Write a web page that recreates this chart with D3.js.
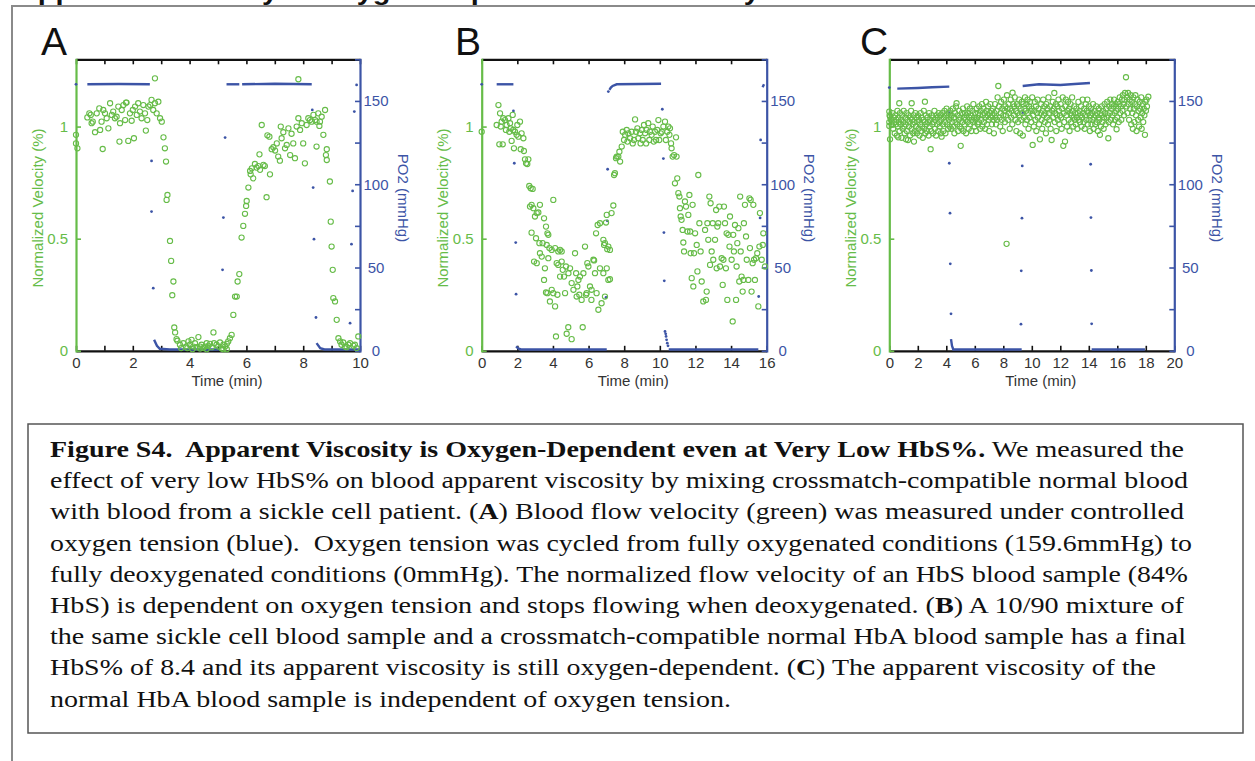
<!DOCTYPE html>
<html>
<head>
<meta charset="utf-8">
<script src="https://cdn.jsdelivr.net/npm/d3@7"></script>
<style>
  body { margin: 0; background: #fff; }
  svg { display: block; }
  .axis text { font-family: 'Liberation Sans', Arial, sans-serif; font-size: 15px; }
  .caption { white-space: pre; }
</style>
</head>
<body>
<div id="chart"></div>
<script>
// ---- data ----
const velTicks = [0, 0.5, 1]
const po2Ticks = [0, 25, 50, 75, 100, 125, 150, 175]
const po2Labels = [0, 50, 100, 150]

const timeTicksA = [0, 1, 2, 3, 4, 5, 6, 7, 8, 9, 10]
const timeLabelsA = [0, 2, 4, 6, 8, 10]
const timeTicksB = [0, 2, 4, 6, 8, 10, 12, 14, 16]
const timeTicksC = [0, 2, 4, 6, 8, 10, 12, 14, 16, 18, 20]

// panel A: [time (min), normalized velocity]
const aVelocity = [
  [0.00,0.963],[0.00,0.925],[0.05,0.903],[0.40,1.041],[0.47,1.059],[0.52,1.052],[0.55,1.015],[0.59,1.022],
  [0.67,0.975],[0.73,1.059],[0.82,1.081],[0.85,0.985],[0.90,1.022],[0.94,0.900],[0.96,1.074],[1.02,1.059],
  [1.08,1.037],[1.14,0.992],[1.20,1.104],[1.26,1.052],[1.31,1.067],[1.37,1.037],[1.43,1.044],[1.49,1.089],
  [1.53,0.933],[1.55,1.015],[1.61,1.074],[1.67,1.096],[1.73,1.029],[1.76,1.107],[1.78,1.107],[1.84,0.936],
  [1.90,1.059],[1.96,1.026],[2.00,1.074],[2.04,0.948],[2.08,1.089],[2.14,1.052],[2.19,1.104],[2.25,1.067],
  [2.31,1.037],[2.37,1.096],[2.43,1.059],[2.46,0.982],[2.51,1.029],[2.55,1.089],[2.61,1.096],[2.66,1.119],
  [2.72,1.074],[2.78,1.104],[2.78,1.215],[2.84,1.059],[2.90,1.111],[2.96,1.037],[3.02,1.022],[3.08,0.952],
  [3.13,0.903],[3.17,0.844],[3.19,0.673],[3.22,0.695],[3.31,0.490],[3.35,0.401],[3.39,0.248],[3.43,0.309],
  [3.46,0.104],[3.49,0.082],[3.54,0.052],[3.57,0.045],
  [3.66,0.027],[3.70,0.012],[3.78,0.034],[3.87,0.019],[3.92,0.012],[3.96,0.042],[4.01,0.027],[4.07,0.049],
  [4.10,0.007],[4.13,0.019],[4.19,0.034],[4.25,0.016],[4.31,0.061],[4.37,0.019],[4.37,0.010],[4.42,0.027],
  [4.48,0.012],[4.54,0.019],[4.60,0.034],[4.60,0.007],[4.66,0.022],[4.72,0.031],[4.78,0.016],[4.84,0.082],
  [4.86,0.034],[4.95,0.027],[5.01,0.019],[5.07,0.037],[5.13,0.010],[5.19,0.027],[5.19,0.007],[5.25,0.019],
  [5.31,0.031],[5.31,0.007],[5.36,0.042],[5.42,0.056],[5.48,0.071],
  [5.54,0.160],[5.60,0.242],[5.66,0.242],[5.69,0.309],[5.75,0.342],[5.83,0.505],[5.89,0.557],[5.95,0.611],
  [5.99,0.646],[6.01,0.668],[6.07,0.728],[6.13,0.802],[6.15,0.787],[6.19,0.814],[6.24,0.769],[6.30,0.833],
  [6.36,0.817],[6.42,0.824],[6.46,0.876],[6.48,0.807],[6.54,1.007],[6.60,0.829],[6.65,0.824],[6.71,0.685],
  [6.74,0.961],[6.81,0.955],[6.83,0.787],[6.89,0.899],[6.95,0.908],[7.01,0.893],[7.07,0.925],[7.12,0.866],
  [7.18,0.848],[7.21,1.000],[7.24,0.948],[7.30,0.975],[7.36,0.903],[7.42,0.918],[7.48,0.992],[7.54,0.873],
  [7.59,0.968],[7.65,0.925],[7.71,0.859],[7.77,1.000],[7.83,1.037],[7.83,1.211],[7.89,0.985],[7.95,1.015],
  [8.00,0.925],[8.06,0.836],[8.12,1.007],[8.18,1.037],[8.24,1.029],[8.30,1.022],[8.36,1.052],[8.42,1.029],
  [8.47,1.022],[8.47,0.911],[8.53,1.059],[8.57,1.003],[8.59,1.022],[8.65,1.044],[8.71,0.963],[8.77,1.074],
  [8.80,0.873],[8.83,0.899],[8.83,0.851],[8.94,0.755],[8.97,0.576],[9.00,0.465],[9.04,0.361],[9.06,0.235],
  [9.12,0.220],[9.18,0.138],[9.24,0.056],[9.30,0.042],[9.35,0.027],[9.41,0.037],[9.47,0.019],[9.53,0.016],
  [9.59,0.027],[9.65,0.034],[9.77,0.022],[9.82,0.027],[9.88,0.012],[9.94,0.064]
]
// [time, PO2 mmHg]: traced runs and lone samples
const aPO2Lines = [
  [[0.4,160],[1.5,160.2],[2.6,160]],
  [[2.75,6.6],[2.85,3],[2.95,1.2],[3.3,0.8],[5.07,0.8]],
  [[5.3,160],[5.75,160]],
  [[5.85,160],[7,160.3],[8.3,160]],
  [[8.47,4.6],[8.6,1.6],[8.75,0.8],[10,0.8]]
]
const aPO2Dots = [
  [0,160],[2.66,114],[2.66,83.6],[2.72,37.6],[5.16,48.6],[5.19,80],[5.25,128],
  [8.32,144.6],[8.35,98],[8.38,67],[8.45,20],[9.65,16.6],[9.7,64],[9.74,96],[9.8,143.6],[9.88,159.6]
]

// panel B
const bVelocity = [
  [0.00,0.977],[0.94,1.096],[0.84,1.007],[1.03,1.059],[1.12,1.022],[1.07,1.000],[0.99,0.921],[1.18,0.921],
  [1.21,1.037],[1.31,1.029],[1.36,0.985],[1.40,1.007],[1.50,1.037],[1.55,0.977],[1.59,1.015],[1.63,0.992],
  [1.68,0.936],[1.74,1.052],[1.77,0.985],[1.81,0.903],[1.87,0.977],[1.96,0.963],[2.00,1.007],[2.06,0.955],
  [2.15,1.022],[2.19,0.899],[2.24,0.970],[2.34,0.948],[2.37,0.891],[2.43,0.854],[2.49,0.836],[2.56,0.833],
  [2.62,0.854],
  [2.67,0.735],[2.75,0.725],[2.86,0.722],[2.71,0.643],[2.80,0.651],[2.90,0.636],[3.09,0.614],[3.18,0.617],
  [3.27,0.651],[2.99,0.599],[2.80,0.527],[3.05,0.502],[3.24,0.480],[3.27,0.435],[2.94,0.398],[3.09,0.391],
  [3.37,0.420],[3.42,0.480],[3.50,0.591],[3.61,0.554],[3.69,0.524],[3.74,0.517],[3.65,0.472],[3.55,0.368],
  [3.74,0.413],[3.80,0.458],[3.93,0.450],[4.02,0.673],[4.12,0.458],[4.21,0.391],[4.30,0.443],[4.40,0.450],
  [4.49,0.443],[3.50,0.316],[3.61,0.260],[3.69,0.257],[3.83,0.220],[3.93,0.272],[4.02,0.257],[4.12,0.198],
  [4.25,0.250],[4.30,0.383],[4.40,0.331],[4.49,0.398],[4.55,0.361],[4.62,0.331],[4.68,0.257],[4.73,0.376],
  [4.87,0.346],[4.96,0.368],[5.05,0.302],[5.15,0.272],[5.24,0.435],[5.30,0.346],[5.33,0.242],[5.37,0.287],
  [5.43,0.316],[5.48,0.250],[5.52,0.331],[5.61,0.227],[5.71,0.346],[5.80,0.465],[5.86,0.250],[5.89,0.257],
  [5.93,0.391],[5.99,0.376],[6.08,0.287],[6.16,0.227],[6.17,0.272],[6.27,0.406],[6.31,0.403],[6.36,0.346],
  [6.45,0.257],[6.55,0.183],[6.64,0.368],[6.73,0.212],[6.83,0.346],[6.92,0.242],[7.02,0.368],[7.11,0.316],
  [7.20,0.319],[4.17,0.064],[4.77,0.076],[4.86,0.105],[5.05,0.052],[5.67,0.105],
  [6.42,0.524],[6.51,0.561],[6.64,0.569],[6.83,0.495],[6.87,0.472],[6.92,0.480],[6.98,0.572],[7.02,0.606],
  [7.05,0.453],[7.11,0.465],[7.20,0.450],[7.29,0.614],[7.39,0.648],
  [7.43,0.784],[7.48,0.792],[7.54,0.859],[7.58,0.866],[7.67,0.866],[7.73,0.888],[7.77,0.844],[7.86,0.911],
  [7.92,0.977],[7.99,0.940],[8.05,0.963],[8.14,0.985],[8.18,0.933],[8.23,0.970],[8.33,0.948],[8.42,0.977],
  [8.48,0.925],[8.55,0.940],[8.61,1.032],[8.66,0.977],[8.74,0.992],[8.79,0.948],[8.89,0.970],[8.92,0.925],
  [8.98,0.985],[9.04,0.940],[9.11,1.007],[9.17,0.970],[9.23,0.925],[9.26,0.985],[9.35,1.015],[9.41,0.940],
  [9.45,0.977],[9.54,0.963],[9.60,1.000],[9.66,0.933],[9.73,0.977],[9.79,0.940],[9.86,0.985],[9.92,1.029],
  [9.97,0.940],[10.05,0.970],[10.11,0.977],[10.20,1.000],[10.29,1.022],[10.34,0.940],[10.42,0.977],
  [10.48,1.000],[10.54,0.963],[10.57,0.992],[10.63,0.925],[10.66,0.903],[10.72,0.866],[10.80,0.873],
  [10.91,0.952],[10.94,0.866],
  [10.85,0.747],[10.98,0.769],[11.04,0.703],[11.10,0.688],[11.13,0.636],[11.17,0.599],[11.22,0.584],
  [11.28,0.539],[11.32,0.483],[11.36,0.443],[11.41,0.666],[11.47,0.643],[11.55,0.532],[11.60,0.606],
  [11.66,0.695],[11.70,0.532],[11.73,0.435],[11.79,0.324],[11.84,0.651],[11.88,0.287],[11.92,0.435],
  [11.98,0.524],[12.07,0.472],[12.11,0.354],[12.16,0.784],[12.22,0.569],[12.29,0.443],[12.35,0.309],
  [12.44,0.220],[12.54,0.539],[12.59,0.227],[12.63,0.264],[12.67,0.569],[12.72,0.495],[12.78,0.688],
  [12.82,0.383],[12.85,0.658],[12.91,0.443],[12.97,0.569],[13.00,0.406],[13.10,0.495],[13.16,0.628],
  [13.19,0.368],[13.23,0.554],[13.28,0.569],[13.34,0.643],[13.38,0.376],[13.47,0.413],[13.53,0.294],
  [13.57,0.406],[13.60,0.643],[13.66,0.569],[13.71,0.368],[13.75,0.524],[13.79,0.227],[13.85,0.517],
  [13.91,0.465],[13.94,0.599],[14.03,0.406],[14.09,0.131],[14.12,0.517],[14.16,0.443],[14.22,0.561],
  [14.28,0.227],[14.31,0.376],[14.35,0.480],[14.41,0.547],[14.46,0.309],[14.51,0.688],[14.54,0.443],
  [14.59,0.331],[14.65,0.264],[14.69,0.316],[14.72,0.569],[14.78,0.651],[14.84,0.510],[14.88,0.406],
  [14.97,0.316],[15.03,0.680],[15.06,0.458],[15.10,0.673],[15.15,0.264],[15.21,0.391],[15.25,0.651],
  [15.29,0.406],[15.34,0.316],[15.40,0.413],[15.47,0.435],[15.53,0.198],[15.59,0.465],[15.62,0.614],
  [15.72,0.406],[15.78,0.472],[15.81,0.524],[15.90,0.376]
]
const bPO2Lines = [
  [[0.84,160],[1.78,160]],
  [[1.93,2.6],[2.05,1.4],[2.2,0.8],[7.02,0.8]],
  [[7.17,156.6],[7.25,158],[7.35,159],[7.58,160],[10.07,160.3]],
  [[10.5,0.8],[15.53,0.8]],
  [[15.77,158.2],[15.85,160]]
]
const bPO2Dots = [
  [0,160],[1.78,144],[1.83,112.6],[1.91,65],[1.93,34],[6.98,32],[7.05,78],[7.07,109],[7.11,155.6],
  [10.14,145],[10.2,115.4],[10.23,71],[10.25,42],[10.29,11.6],[10.33,10.2],[10.35,8.6],[10.38,6.6],
  [10.42,4.6],[10.46,3],[15.55,32.6],[15.63,79.8],[15.66,126.6]
]

// panel C
const cVelocity = [
  [0.00,1.067],[0.00,1.003],[0.05,0.943],[0.05,1.044],[0.63,0.952],[0.70,1.104],[1.17,0.943],[1.57,1.104],
  [1.73,0.933],[2.50,1.111],[2.90,0.899],[3.67,0.955],[5.01,0.914],[4.72,1.104],[7.65,1.181],[8.23,0.477],
  [8.65,1.151],[10.06,0.918],[10.57,0.943],[11.39,0.940],[12.21,0.914],[12.33,0.933],[14.78,0.963],
  [15.37,0.948],[15.95,0.988],[16.61,1.220],[17.94,0.963],[18.18,1.133],
  [0.00,1.02],[0.02,1.05],[0.12,1.03],[0.18,1.01],[0.22,1.06],[0.27,0.99],[0.31,1.04],[0.35,1.02],
  [0.38,0.97],[0.42,1.05],[0.46,1.01],[0.50,1.03],[0.53,0.96],[0.57,1.07],[0.60,1.00],[0.64,1.04],
  [0.68,1.02],[0.72,0.98],[0.75,1.06],[0.79,1.01],[0.83,1.03],[0.86,0.95],[0.90,1.05],[0.94,0.99],
  [0.97,1.02],[1.01,1.07],[1.05,1.00],[1.08,0.97],[1.12,1.04],[1.16,1.01],[1.20,1.06],[1.23,0.98],
  [1.27,1.03],[1.31,0.94],[1.34,1.05],[1.38,1.00],[1.42,1.02],[1.46,0.96],[1.49,1.04],[1.53,1.07],
  [1.57,0.99],[1.61,1.03],[1.64,1.01],[1.68,0.97],[1.72,1.05],[1.75,1.02],[1.79,0.98],[1.83,1.06],
  [1.87,1.00],[1.90,1.04],[1.94,0.97],[1.98,1.02],[2.01,1.05],[2.05,0.99],[2.09,1.03],[2.12,0.96],
  [2.16,1.01],[2.20,1.06],[2.24,0.98],[2.27,1.04],[2.31,1.00],[2.35,0.95],[2.38,1.03],[2.42,1.07],
  [2.46,0.99],[2.50,1.02],[2.53,0.97],[2.57,1.05],[2.61,1.01],[2.64,0.98],[2.68,1.04],[2.72,1.02],
  [2.76,0.96],[2.79,1.06],[2.83,1.00],[2.87,1.03],[2.94,0.98],[2.98,1.05],[3.02,1.01],[3.06,0.97],
  [3.09,1.04],[3.13,1.02],[3.17,1.07],[3.20,0.99],[3.24,1.03],[3.28,0.96],[3.31,1.05],[3.35,1.01],
  [3.39,1.04],[3.43,0.98],[3.46,1.06],[3.50,1.02],[3.54,1.00],[3.57,1.05],[3.61,0.97],[3.65,1.03],
  [3.72,1.06],[3.76,1.01],[3.80,0.98],[3.83,1.04],[3.87,1.07],[3.91,1.02],[3.94,0.97],[3.98,1.05],
  [4.02,1.08],[4.06,1.01],[4.09,1.04],[4.13,0.99],[4.17,1.06],[4.20,1.03],[4.24,1.00],[4.28,1.07],
  [4.31,1.04],[4.35,0.99],[4.39,1.05],[4.42,1.02],[4.46,1.08],[4.50,1.00],[4.54,1.04],[4.57,0.97],
  [4.61,1.06],[4.65,1.02],[4.68,1.09],[4.76,1.01],[4.80,1.05],[4.83,0.98],[4.87,1.03],[4.91,1.07],
  [4.94,1.00],[4.98,1.04],[5.06,0.99],[5.09,1.06],[5.13,1.02],[5.17,1.08],[5.20,0.98],[5.24,1.04],
  [5.28,1.01],[5.31,1.06],[5.35,1.03],[5.39,0.97],[5.42,1.05],[5.46,1.09],[5.50,1.02],[5.53,1.06],
  [5.57,0.99],[5.61,1.04],[5.65,1.08],[5.68,1.01],[5.72,1.05],[5.76,0.98],[5.79,1.03],[5.83,1.07],
  [5.87,1.02],[5.90,1.10],[5.94,1.04],[5.98,1.00],[6.02,1.06],[6.05,1.03],[6.09,0.98],[6.13,1.08],
  [6.16,1.04],[6.20,1.01],[6.24,1.06],[6.27,1.02],[6.31,1.09],[6.35,1.05],[6.38,0.99],[6.42,1.07],
  [6.46,1.03],[6.50,1.10],[6.53,1.00],[6.57,1.05],[6.61,1.08],[6.64,1.02],[6.68,1.06],[6.72,0.99],
  [6.75,1.04],[6.79,1.11],[6.83,1.07],[6.86,1.01],[6.90,1.05],[6.94,1.09],[6.97,1.03],[7.01,0.98],
  [7.05,1.06],[7.09,1.10],[7.12,1.04],[7.16,1.07],[7.20,1.01],[7.23,1.05],[7.27,1.08],[7.31,1.03],
  [7.34,0.97],[7.38,1.06],[7.42,1.10],[7.45,1.04],[7.49,1.01],[7.53,1.07],[7.56,1.03],[7.60,1.13],
  [7.70,1.09],[7.74,1.04],[7.78,1.00],[7.82,1.06],[7.85,1.11],[7.89,1.03],[7.93,1.08],[7.96,0.98],
  [8.00,1.05],[8.04,1.12],[8.08,1.07],[8.11,1.02],[8.15,1.09],[8.19,1.05],[8.26,1.14],[8.30,1.08],
  [8.34,1.03],[8.37,1.10],[8.41,1.06],[8.45,0.99],[8.48,1.08],[8.52,1.12],[8.56,1.04],[8.59,1.07],
  [8.63,1.01],[8.70,1.10],[8.74,1.05],[8.78,1.09],[8.81,1.13],[8.85,1.03],[8.89,1.07],[8.92,0.98],
  [8.96,1.10],[9.00,1.06],[9.04,1.02],[9.07,1.09],[9.11,1.12],[9.15,1.05],[9.18,0.97],[9.22,1.08],
  [9.26,1.03],[9.30,1.11],[9.33,1.06],[9.37,0.96],[9.41,1.10],[9.44,1.04],[9.48,1.08],[9.52,1.13],
  [9.55,1.01],[9.59,1.07],[9.63,1.10],[9.66,1.03],[9.70,1.12],[9.74,1.06],[9.77,0.99],[9.81,1.09],
  [9.85,1.04],[9.88,1.11],[9.92,1.07],[9.96,1.02],[10.00,1.08],[10.03,1.13],[10.10,1.05],[10.14,1.00],
  [10.18,1.07],[10.21,1.11],[10.25,1.03],[10.29,1.09],[10.32,0.98],[10.36,1.06],[10.40,1.12],[10.43,1.04],
  [10.47,1.08],[10.51,1.01],[10.62,1.06],[10.66,1.10],[10.69,1.03],[10.73,0.99],[10.77,1.07],[10.80,1.12],
  [10.84,1.05],[10.88,1.09],[10.91,1.02],[10.95,1.06],[10.99,0.97],[11.02,1.10],[11.06,1.04],[11.10,1.08],
  [11.13,1.01],[11.17,1.13],[11.21,1.06],[11.24,1.03],[11.28,1.09],[11.32,0.99],[11.43,1.07],[11.47,1.11],
  [11.50,1.04],[11.54,1.08],[11.58,1.15],[11.61,1.02],[11.65,1.06],[11.69,1.10],[11.72,0.98],[11.76,1.05],
  [11.80,1.09],[11.83,1.03],[11.87,1.12],[11.91,1.07],[11.94,1.01],[11.98,1.05],[12.02,1.10],[12.06,1.04],
  [12.09,0.99],[12.13,1.08],[12.17,1.13],[12.25,1.06],[12.28,1.02],[12.36,1.09],[12.39,1.12],[12.43,1.05],
  [12.47,1.00],[12.50,1.07],[12.54,1.11],[12.58,1.03],[12.61,1.08],[12.65,0.98],[12.69,1.06],[12.72,1.10],
  [12.76,1.02],[12.80,1.05],[12.83,1.13],[12.87,1.07],[12.91,1.00],[12.94,1.04],[12.98,1.09],[13.02,1.03],
  [13.05,1.06],[13.09,1.01],[13.13,1.08],[13.16,1.04],[13.20,0.99],[13.24,1.06],[13.27,1.11],[13.31,1.03],
  [13.35,1.07],[13.38,1.02],[13.42,1.05],[13.46,1.09],[13.49,1.00],[13.53,1.04],[13.57,1.12],[13.60,1.06],
  [13.64,1.02],[13.68,1.08],[13.71,0.99],[13.75,1.05],[13.79,1.10],[13.82,1.03],[13.86,1.07],[13.90,1.12],
  [13.93,1.01],[13.97,1.06],[14.01,1.09],[14.04,1.03],[14.08,0.98],[14.12,1.05],[14.15,1.08],[14.19,1.01],
  [14.23,1.06],[14.26,1.03],[14.30,1.10],[14.34,0.99],[14.37,1.04],[14.41,1.07],[14.45,1.01],[14.48,1.05],
  [14.52,1.09],[14.56,1.02],[14.59,1.06],[14.63,0.98],[14.67,1.04],[14.70,1.08],[14.74,1.03],[14.81,1.06],
  [14.85,1.00],[14.89,1.05],[14.92,1.09],[14.96,1.02],[15.00,1.07],[15.04,0.99],[15.07,1.04],[15.11,1.10],
  [15.15,1.06],[15.18,1.01],[15.22,1.08],[15.26,1.04],[15.29,1.11],[15.33,1.05],[15.40,1.02],[15.44,1.09],
  [15.48,1.06],[15.51,1.12],[15.55,1.03],[15.59,1.08],[15.62,1.10],[15.66,1.05],[15.70,1.01],[15.73,1.09],
  [15.77,1.12],[15.81,1.06],[15.84,1.03],[15.88,1.10],[15.92,1.07],[15.99,1.04],[16.03,1.11],[16.06,1.08],
  [16.10,1.02],[16.14,1.10],[16.17,1.13],[16.21,1.06],[16.25,1.09],[16.28,1.03],[16.32,1.12],[16.36,1.07],
  [16.39,1.14],[16.43,1.10],[16.47,1.05],[16.50,1.12],[16.54,1.15],[16.65,1.09],[16.69,1.13],[16.72,1.06],
  [16.76,1.15],[16.80,1.10],[16.83,1.03],[16.87,1.12],[16.91,1.08],[16.94,1.14],[16.98,1.01],[17.02,1.11],
  [17.05,1.06],[17.09,0.99],[17.13,1.13],[17.16,1.08],[17.20,1.02],[17.24,1.10],[17.27,1.14],[17.31,1.05],
  [17.35,0.98],[17.38,1.09],[17.42,1.12],[17.46,1.03],[17.49,1.07],[17.53,1.00],[17.57,1.11],[17.60,1.08],
  [17.64,1.04],[17.68,1.13],[17.71,0.99],[17.75,1.06],[17.79,1.10],[17.82,1.02],[17.86,1.08],[17.90,1.05],
  [17.97,1.11],[18.01,1.07],[18.05,1.12],[18.08,1.09]
]
const cPO2Lines = [
  [[0.56,157.4],[2,157.8],[3,158.2],[4.21,158.6]],
  [[4.33,7],[4.4,3],[4.49,0.8],[9.29,0.8]],
  [[9.36,159],[10.5,160],[12,159.6],[13,160.2],[14.08,160.8]],
  [[14.2,0.8],[17.94,0.8]]
]
const cPO2Dots = [
  [0,158],[4.19,143],[4.21,112.6],[4.26,82.6],[4.28,52.2],[4.33,22.2],
  [9.24,16],[9.26,48],[9.31,79.6],[9.33,111],[9.38,143],
  [14.13,144],[14.13,112],[14.15,80],[14.18,48.2],[14.2,16.2]
]

const titleText = 'Apparent Viscosity is Oxygen-Dependent even at Very Low HbS%.'
const captionLines = [
  [['Figure S4.  Apparent Viscosity is Oxygen-Dependent even at Very Low HbS%.', true], [' We measured the', false]],
  [['effect of very low HbS% on blood apparent viscosity by mixing crossmatch-compatible normal blood', false]],
  [['with blood from a sickle cell patient. (', false], ['A', true], [') Blood flow velocity (green) was measured under controlled', false]],
  [['oxygen tension (blue).  Oxygen tension was cycled from fully oxygenated conditions (159.6mmHg) to', false]],
  [['fully deoxygenated conditions (0mmHg). The normalized flow velocity of an HbS blood sample (84%', false]],
  [['HbS) is dependent on oxygen tension and stops flowing when deoxygenated. (', false], ['B', true], [') A 10/90 mixture of', false]],
  [['the same sickle cell blood sample and a crossmatch-compatible normal HbA blood sample has a final', false]],
  [['HbS% of 8.4 and its apparent viscosity is still oxygen-dependent. (', false], ['C', true], [') The apparent viscosity of the', false]],
  [['normal HbA blood sample is independent of oxygen tension.', false]]
]
const captionEnds = [1184, 1188, 1184, 1192, 1188, 1184, 1186, 1156, 731]

// ---- layout ----
const green = '#66bc48'
const blue = '#3c54a6'
const plotTop = 59.3
const plotBottom = 350.8

const panels = [
  { letter: 'A', letterX: 41, left: 76, right: 360, tmax: 10, ticks: timeTicksA, labels: timeLabelsA,
    vel: aVelocity, lines: aPO2Lines, dots: aPO2Dots },
  { letter: 'B', letterX: 455, left: 481.7, right: 766.7, tmax: 16, ticks: timeTicksB, labels: timeTicksB,
    vel: bVelocity, lines: bPO2Lines, dots: bPO2Dots },
  { letter: 'C', letterX: 860, left: 889.3, right: 1174.3, tmax: 20, ticks: timeTicksC, labels: timeTicksC,
    vel: cVelocity, lines: cPO2Lines, dots: cPO2Dots }
]

const svg = d3
  .select('#chart')
  .append('svg')
  .attr('width', 1255)
  .attr('height', 761)

svg.append('rect').attr('width', 1255).attr('height', 761).attr('fill', '#fff')

// heading of the page above, only its lower edge shows
svg
  .append('text')
  .attr('x', 17)
  .attr('y', 0)
  .attr('font-family', "'Liberation Sans', Arial, sans-serif")
  .attr('font-weight', 'bold')
  .attr('font-size', 26)
  .attr('fill', '#111')
  .attr('textLength', 908)
  .attr('lengthAdjust', 'spacingAndGlyphs')
  .text(titleText)

// outer frame (runs off the right and bottom)
svg
  .append('rect')
  .attr('x', 12)
  .attr('y', 6)
  .attr('width', 1400)
  .attr('height', 900)
  .attr('fill', 'none')
  .attr('stroke', '#8a8a8a')
  .attr('stroke-width', 2)

const yVel = d3.scaleLinear().domain([0, 1.3]).range([plotBottom, plotTop])
const yPO2 = d3.scaleLinear().domain([0, 175]).range([plotBottom, plotTop])

panels.forEach(p => {
  const g = svg.append('g')
  const x = d3.scaleLinear().domain([0, p.tmax]).range([p.left, p.right])

  g.append('text')
    .attr('x', p.letterX)
    .attr('y', 55)
    .attr('font-family', "'Liberation Sans', Arial, sans-serif")
    .attr('font-size', 39)
    .attr('fill', '#111')
    .text(p.letter)

  // time axes, bottom with labels and top without
  const xAxis = d3
    .axisBottom(x)
    .tickValues(p.ticks)
    .tickSize(-5)
    .tickSizeOuter(0)
    .tickPadding(7)
    .tickFormat(d => (p.labels.includes(d) ? d : ''))
  g.append('g')
    .attr('class', 'axis x-axis')
    .attr('transform', 'translate(0,' + plotBottom + ')')
    .call(xAxis)

  const xTop = d3.axisTop(x).tickValues(p.ticks).tickSize(-5).tickSizeOuter(0).tickFormat('')
  g.append('g')
    .attr('class', 'axis x-top')
    .attr('transform', 'translate(0,' + plotTop + ')')
    .call(xTop)

  g.selectAll('.x-axis, .x-top').selectAll('.domain').attr('stroke', '#111').attr('stroke-width', 2.2)
  g.selectAll('.x-axis, .x-top').selectAll('.tick line').attr('stroke', '#111').attr('stroke-width', 1.6)
  g.selectAll('.x-axis .tick text').attr('fill', '#333')

  // velocity axis (left, green)
  const yAxis = d3
    .axisLeft(yVel)
    .tickValues(velTicks)
    .tickSize(-5)
    .tickSizeOuter(0)
    .tickPadding(8)
    .tickFormat(d => String(d))
  const ly = g.append('g')
    .attr('class', 'axis y-left')
    .attr('transform', 'translate(' + p.left + ',0)')
    .call(yAxis)
  ly.select('.domain').attr('stroke', green).attr('stroke-width', 2.2).attr('stroke-linecap', 'square')
  ly.selectAll('.tick line').attr('stroke', green).attr('stroke-width', 1.6)
  ly.selectAll('.tick text').attr('fill', green)

  // PO2 axis (right, blue)
  const po2Axis = d3
    .axisRight(yPO2)
    .tickValues(po2Ticks)
    .tickSize(-5)
    .tickSizeOuter(0)
    .tickFormat(d => (po2Labels.includes(d) ? d : ''))
  const ry = g.append('g')
    .attr('class', 'axis y-right')
    .attr('transform', 'translate(' + p.right + ',0)')
    .call(po2Axis)
  ry.select('.domain').attr('stroke', blue).attr('stroke-width', 2.2).attr('stroke-linecap', 'square')
  ry.selectAll('.tick line').attr('stroke', blue).attr('stroke-width', 1.6)
  ry.selectAll('.tick text').attr('fill', blue).attr('x', 16).attr('text-anchor', 'middle')

  // axis titles
  g.append('text')
    .attr('x', (p.left + p.right) / 2 + 9)
    .attr('y', 386)
    .attr('text-anchor', 'middle')
    .attr('font-family', "'Liberation Sans', Arial, sans-serif")
    .attr('font-size', 15)
    .attr('fill', '#333')
    .text('Time (min)')

  g.append('text')
    .attr('transform', 'translate(' + (p.left - 33.5) + ',208) rotate(-90)')
    .attr('text-anchor', 'middle')
    .attr('font-family', "'Liberation Sans', Arial, sans-serif")
    .attr('font-size', 15)
    .attr('fill', green)
    .text('Normalized Velocity (%)')

  g.append('text')
    .attr('transform', 'translate(' + (p.right + 37.5) + ',198) rotate(90)')
    .attr('text-anchor', 'middle')
    .attr('font-family', "'Liberation Sans', Arial, sans-serif")
    .attr('font-size', 15)
    .attr('fill', blue)
    .text('PO2 (mmHg)')

  // oxygen tension
  const line = d3
    .line()
    .x(d => x(d[0]))
    .y(d => yPO2(d[1]))
  g.selectAll('.po2-line')
    .data(p.lines)
    .enter()
    .append('path')
    .attr('class', 'po2-line')
    .attr('d', line)
    .attr('fill', 'none')
    .attr('stroke', blue)
    .attr('stroke-width', 2.4)

  g.selectAll('.po2-dot')
    .data(p.dots)
    .enter()
    .append('circle')
    .attr('class', 'po2-dot')
    .attr('r', 1.4)
    .attr('cx', d => x(d[0]))
    .attr('cy', d => yPO2(d[1]))
    .attr('fill', blue)

  // velocity
  g.selectAll('.vel')
    .data(p.vel)
    .enter()
    .append('circle')
    .attr('class', 'vel')
    .attr('r', 2.6)
    .attr('cx', d => x(d[0]))
    .attr('cy', d => yVel(d[1]))
    .attr('fill', 'none')
    .attr('stroke', green)
    .attr('stroke-width', 1.1)
})

// caption box
svg
  .append('rect')
  .attr('x', 28)
  .attr('y', 424)
  .attr('width', 1215)
  .attr('height', 309)
  .attr('fill', 'none')
  .attr('stroke', '#555')
  .attr('stroke-width', 1.5)

captionLines.forEach((segs, i) => {
  const t = svg
    .append('text')
    .attr('class', 'caption')
    .attr('x', 50)
    .attr('y', 457 + i * 31.2)
    .attr('font-family', "'Liberation Serif', 'Times New Roman', serif")
    .attr('font-size', 22.5)
    .attr('fill', '#111')
  segs.forEach(s => {
    t.append('tspan')
      .attr('font-weight', s[1] ? 'bold' : 'normal')
      .text(s[0])
  })
  t.attr('textLength', captionEnds[i] - 50).attr('lengthAdjust', 'spacingAndGlyphs')
})
</script>
</body>
</html>
